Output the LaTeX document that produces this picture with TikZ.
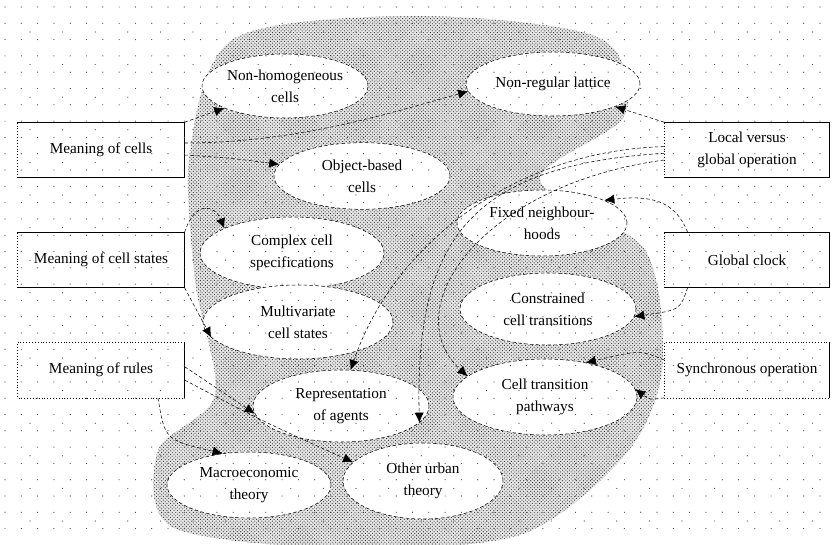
\documentclass[tikz,border=0pt]{standalone}
\usepackage{fontspec}
\setmainfont{Liberation Serif}
\usetikzlibrary{shapes.geometric,arrows.meta,patterns}

\tikzset{
  issue/.style={ellipse,draw,densely dashed,fill=white,align=center,inner sep=0pt},
  topic/.style={rectangle,fill=white,minimum width=50mm,minimum height=16.5mm,align=center,inner sep=0pt},
  link/.style={densely dashed,-{Latex[length=3mm,width=2.8mm]}},
}

\begin{document}
\begin{tikzpicture}[x=0.3mm,y=-0.3mm,line width=0.45pt,
  every node/.style={font=\fontsize{13pt}{19pt}\selectfont}]
  \useasboundingbox (0,0) rectangle (832,544);
  % shaded background blob
  \fill[black!10]
    plot[smooth cycle] coordinates {(235,38) (420,16) (600,38) (625,115) (540,180)
      (645,250) (662,370) (625,455) (520,535) (340,548) (172,527) (158,450)
      (215,395) (195,280) (190,150)};
  \fill[pattern=crosshatch dots,pattern color=black!85]
    plot[smooth cycle] coordinates {(235,38) (420,16) (600,38) (625,115) (540,180)
      (645,250) (662,370) (625,455) (520,535) (340,548) (172,527) (158,450)
      (215,395) (195,280) (190,150)};
  % issues
  \node[issue,minimum width=49.8mm,minimum height=19.2mm] (nonhom) at (285,86) {Non-homogeneous\\cells};
  \node[issue,minimum width=52.2mm,minimum height=19.2mm] (nonreg) at (553,84) {Non-regular lattice};
  \node[issue,minimum width=52.8mm,minimum height=20mm] (objb) at (362,176) {Object-based\\cells};
  \node[issue,minimum width=55.2mm,minimum height=21.6mm] (complex) at (292,253) {Complex cell\\specifications};
  \node[issue,minimum width=57mm,minimum height=22.2mm] (multi) at (298,322) {Multivariate\\cell states};
  \node[issue,minimum width=52.8mm,minimum height=21.6mm] (agents) at (341,406) {Representation\\of agents};
  \node[issue,minimum width=49.2mm,minimum height=19.8mm] (macro) at (249,485) {Macroeconomic\\theory};
  \node[issue,minimum width=48mm,minimum height=22.8mm] (urban) at (423,481) {Other urban\\theory};
  \node[issue,minimum width=51mm,minimum height=19.8mm] (fixed) at (542,223) {Fixed neighbour-\\hoods};
  \node[issue,minimum width=52.8mm,minimum height=21.6mm] (constr) at (548,309) {Constrained\\cell transitions};
  \node[issue,minimum width=55.2mm,minimum height=22.8mm] (trans) at (545,397) {Cell transition\\pathways};
  % topics
  \node[topic] (mcells)  at (101,150) {Meaning of cells};
  \node[topic] (mstates) at (101,260) {Meaning of cell states};
  \node[topic] (mrules)  at (101,370) {Meaning of rules};
  \node[topic,minimum width=49.5mm] (local)  at (747,150) {Local versus\\global operation};
  \node[topic,minimum width=49.5mm] (gclock) at (747,260) {Global clock};
  \node[topic,minimum width=49.5mm] (sync)   at (747,370) {Synchronous operation};
  \foreach \b in {mcells,mstates,local,gclock} {
    \draw[line width=0.9pt] (\b.north west) -- (\b.north east) -- (\b.south east) -- (\b.south west);
    \draw[dotted] (\b.south west) -- (\b.north west);
  }
  \foreach \b in {mrules,sync} {
    \draw[line width=0.9pt] (\b.north east) -- (\b.south east);
    \draw[dotted] (\b.north east) -- (\b.north west) -- (\b.south west) -- (\b.south east);
  }
  % dot grid
  \foreach \i in {0,...,50}
    \foreach \j in {0,...,32}
      \fill[black!75] (5+16.3*\i,7+16.3*\j) circle (0.6);
  \foreach \i in {0,...,24}
    \foreach \j in {0,...,16}
      \fill[black!75] (30+32.6*\i,32+32.6*\j) circle (0.6);
  % links from the left
  \draw[link] (mcells.north east) -- (nonhom.200);
  \draw[link] ([yshift=2.1mm]mcells.east) .. controls (300,143) and (400,110) .. (nonreg.185);
  \draw[link] ([yshift=-1.5mm]mcells.east) .. controls (230,158) .. (objb.172);
  \draw[link] (mstates.north east) .. controls (195,200) and (215,205) .. (complex.160);
  \draw[link] (mstates.south east) -- (multi.190);
  \draw[link] ([yshift=1mm]mrules.east) -- (agents.185);
  \draw[link] ([yshift=-3mm]mrules.east) .. controls (260,420) .. (urban.165);
  \draw[link] ([xshift=-8mm]mrules.south east) .. controls (165,440) .. (macro.130);
  % links from the right
  \draw[link] (local.north west) -- (nonreg.-20);
  \draw[link] ([yshift=1mm]local.west) .. controls (520,150) and (395,240) .. (agents.75);
  \draw[link] ([yshift=-1mm]local.west) .. controls (470,165) and (415,240) .. (agents.-12);
  \draw[link] ([yshift=-3mm]local.west) .. controls (480,185) and (395,310) .. (trans.165);
  \draw[link] ([xshift=7mm]gclock.north west) .. controls (675,200) and (650,195) .. (fixed.20);
  \draw[link] ([xshift=7mm]gclock.south west) .. controls (680,310) .. (constr.-5);
  \draw[link] ([yshift=3mm]sync.west) .. controls (640,350) .. (trans.40);
  \draw[link] (sync.south west) .. controls (650,400) .. (trans.5);
\end{tikzpicture}
\end{document}
